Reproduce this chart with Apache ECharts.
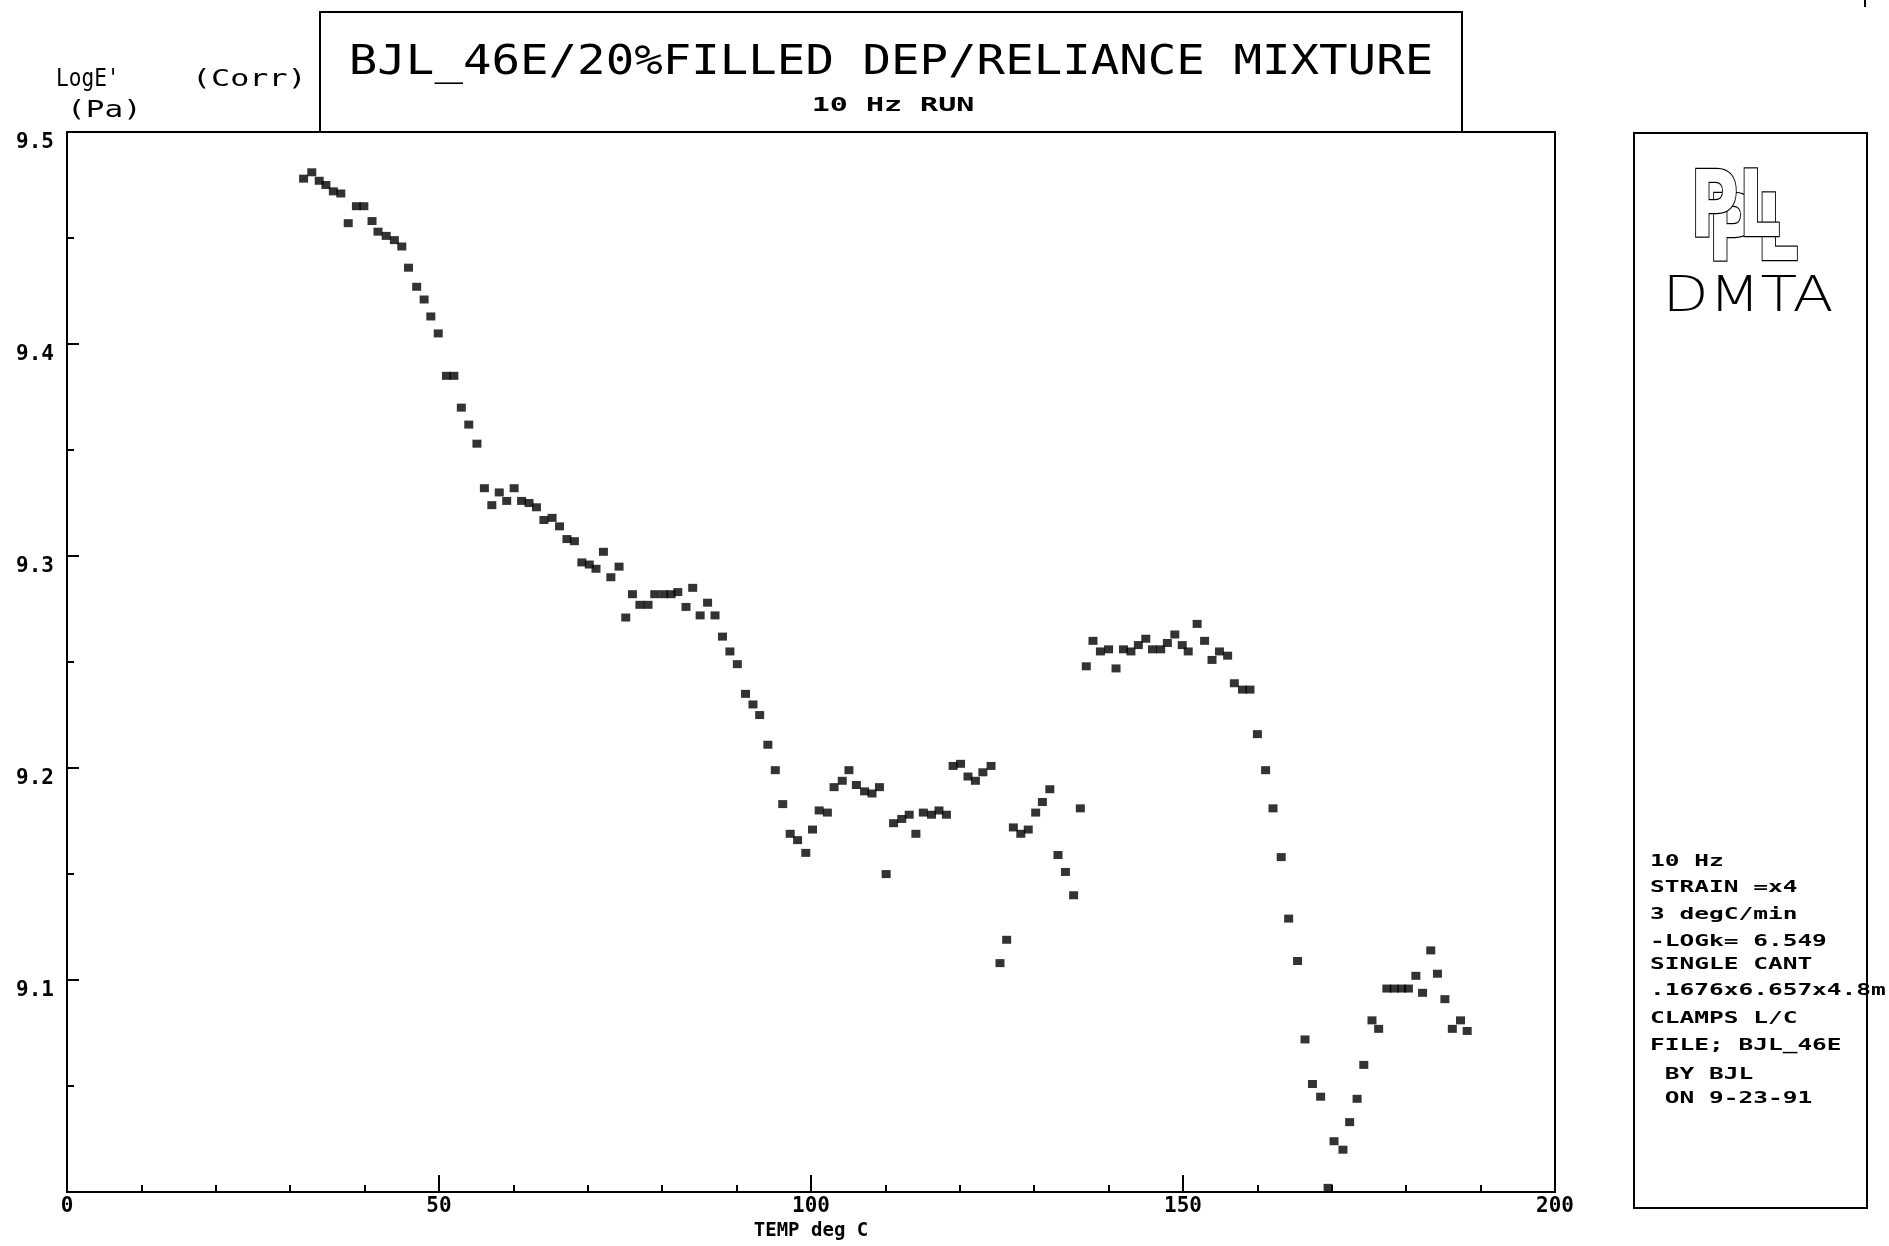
<!DOCTYPE html>
<html>
<head>
<meta charset="utf-8">
<title>BJL_46E DMTA</title>
<script src="https://cdn.jsdelivr.net/npm/echarts/dist/echarts.min.js"></script>
<style>
  html, body { margin: 0; padding: 0; background: #fff; }
  #chart { width: 1889px; height: 1246px; }
</style>
</head>
<body>
<div id="chart"></div>
<script>
// temperature (deg C) of each measured point
const temps = [
  31.8, 32.9, 33.9, 34.8, 35.8, 36.8, 37.8, 38.9, 39.9, 41.0,
  41.8, 42.9, 44.0, 45.0, 45.9, 47.0, 48.0, 48.9, 49.9, 51.0,
  52.0, 53.0, 54.0, 55.1, 56.1, 57.1, 58.1, 59.1, 60.1, 61.1,
  62.1, 63.1, 64.1, 65.2, 66.2, 67.2, 68.2, 69.2, 70.2, 71.1,
  72.1, 73.1, 74.2, 75.1, 76.0, 77.0, 78.1, 79.0, 80.2, 81.2,
  82.1, 83.2, 84.1, 85.1, 86.1, 87.1, 88.1, 89.1, 90.1, 91.2,
  92.2, 93.1, 94.2, 95.2, 96.2, 97.2, 98.2, 99.3, 100.2, 101.1,
  102.2, 103.1, 104.2, 105.1, 106.1, 107.2, 108.2, 109.2, 110.1, 111.1,
  112.2, 113.2, 114.1, 115.1, 116.2, 117.2, 118.2, 119.1, 120.1, 121.1,
  122.1, 123.1, 124.2, 125.4, 126.3, 127.2, 128.2, 129.2, 130.2, 131.1,
  132.1, 133.2, 134.2, 135.3, 136.2, 137.0, 137.9, 138.9, 140.0, 141.0,
  142.0, 143.0, 144.0, 145.0, 145.9, 147.0, 147.9, 148.9, 149.9, 150.7,
  151.9, 152.9, 153.9, 154.9, 156.0, 156.9, 158.0, 159.0, 160.0, 161.1,
  162.1, 163.2, 164.2, 165.4, 166.4, 167.4, 168.5, 169.5, 170.3, 171.5,
  172.4, 173.4, 174.3, 175.4, 176.3, 177.4, 178.4, 179.4, 180.3, 181.3,
  182.2, 183.3, 184.2, 185.2, 186.2, 187.3, 188.2
];

// LogE' (Corr), Pa
const logE = [
  9.478, 9.481, 9.477, 9.475, 9.472, 9.471, 9.457, 9.465, 9.465, 9.458,
  9.453, 9.451, 9.449, 9.446, 9.436, 9.427, 9.421, 9.413, 9.405, 9.385,
  9.385, 9.370, 9.362, 9.353, 9.332, 9.324, 9.330, 9.326, 9.332, 9.326,
  9.325, 9.323, 9.317, 9.318, 9.314, 9.308, 9.307, 9.297, 9.296, 9.294,
  9.302, 9.290, 9.295, 9.271, 9.282, 9.277, 9.277, 9.282, 9.282, 9.282,
  9.283, 9.276, 9.285, 9.272, 9.278, 9.272, 9.262, 9.255, 9.249, 9.235,
  9.230, 9.225, 9.211, 9.199, 9.183, 9.169, 9.166, 9.160, 9.171, 9.180,
  9.179, 9.191, 9.194, 9.199, 9.192, 9.189, 9.188, 9.191, 9.150, 9.174,
  9.176, 9.178, 9.169, 9.179, 9.178, 9.180, 9.178, 9.201, 9.202, 9.196,
  9.194, 9.198, 9.201, 9.108, 9.119, 9.172, 9.169, 9.171, 9.179, 9.184,
  9.190, 9.159, 9.151, 9.140, 9.181, 9.248, 9.260, 9.255, 9.256, 9.247,
  9.256, 9.255, 9.258, 9.261, 9.256, 9.256, 9.259, 9.263, 9.258, 9.255,
  9.268, 9.260, 9.251, 9.255, 9.253, 9.240, 9.237, 9.237, 9.216, 9.199,
  9.181, 9.158, 9.129, 9.109, 9.072, 9.051, 9.045, 9.002, 9.024, 9.020,
  9.033, 9.044, 9.060, 9.081, 9.077, 9.096, 9.096, 9.096, 9.096, 9.102,
  9.094, 9.114, 9.103, 9.091, 9.077, 9.081, 9.076
];

const titleText = "BJL_46E/20%FILLED DEP/RELIANCE MIXTURE";
const subTitleText = "10 Hz RUN";
const xName = "TEMP deg C";
const infoLines = [
  "10 Hz",
  "STRAIN =x4",
  "3 degC/min",
  "-LOGk= 6.549",
  "SINGLE CANT",
  ".1676x6.657x4.8m",
  "CLAMPS L/C",
  "FILE; BJL_46E",
  " BY BJL",
  " ON 9-23-91"
];

const mono = "DejaVu Sans Mono";
const points = temps.map((t, i) => [t, logE[i]]);

// y centres of the info lines in the right box
const infoY = [862, 888, 915, 942, 965, 991, 1019, 1046, 1075, 1099];

function txt(x, y, text, opt) {
  return {
    type: "text",
    x: x,
    y: y,
    scaleX: opt.scaleX || 1,
    z: 10,
    style: {
      text: text,
      fontSize: opt.size,
      fontFamily: opt.family || mono,
      fontWeight: opt.weight || "normal",
      fill: opt.fill || "#000",
      stroke: opt.stroke,
      lineWidth: opt.lineWidth,
      textAlign: opt.align || "left",
      align: opt.align || "left",
      textVerticalAlign: "middle",
      verticalAlign: "middle"
    }
  };
}

const graphics = [
  // title box
  { type: "rect", shape: { x: 320, y: 12, width: 1142, height: 120 },
    style: { fill: "none", stroke: "#000", lineWidth: 2 } },
  txt(891, 64, titleText, { size: 40, scaleX: 1.185, align: "center" }),
  txt(893, 106, subTitleText, { size: 20, weight: "bold", scaleX: 1.5, align: "center" }),
  // y axis name
  txt(56, 80, "LogE'", { size: 24, scaleX: 0.88 }),
  txt(192, 80, "(Corr)", { size: 23, scaleX: 1.38 }),
  txt(67, 111, "(Pa)", { size: 23, scaleX: 1.35 }),
  // right info box
  { type: "rect", shape: { x: 1634, y: 133, width: 233, height: 1075 },
    style: { fill: "none", stroke: "#000", lineWidth: 2 } },
  { type: "line", shape: { x1: 1865, y1: 0, x2: 1865, y2: 7 },
    style: { stroke: "#000", lineWidth: 2 } },
  // logo
  txt(1708, 236, "PL", { size: 92, family: "DejaVu Sans", weight: "bold", fill: "#fff",
    stroke: "#000", lineWidth: 2.5, scaleX: 0.72 }),
  txt(1690, 212, "PL", { size: 92, family: "DejaVu Sans", weight: "bold", fill: "#fff",
    stroke: "#000", lineWidth: 2.5, scaleX: 0.72 }),
  txt(1748, 298, "DMTA", { size: 50, family: "DejaVu Sans", weight: 200,
    scaleX: 1.2, align: "center" })
];

infoLines.forEach((line, i) => {
  graphics.push(txt(1650, infoY[i], line, { size: 16, weight: "bold", scaleX: 1.53 }));
});

const chart = echarts.init(document.getElementById("chart"), null, { renderer: "canvas" });

chart.setOption({
  animation: false,
  backgroundColor: "#fff",
  grid: {
    show: true,
    left: 67,
    top: 132,
    width: 1488,
    height: 1069,
    borderColor: "#000",
    borderWidth: 2,
    backgroundColor: "transparent"
  },
  xAxis: {
    type: "value",
    min: 0,
    max: 200,
    interval: 50,
    name: xName,
    nameLocation: "middle",
    nameGap: 21,
    nameTextStyle: { fontFamily: mono, fontWeight: "bold", fontSize: 19, color: "#000" },
    axisLine: { lineStyle: { color: "#000", width: 2 } },
    axisTick: { inside: true, length: 17, lineStyle: { color: "#000", width: 2 } },
    minorTick: { show: true, splitNumber: 5, length: 7, lineStyle: { color: "#000", width: 2 } },
    splitLine: { show: false },
    axisLabel: { margin: 4, fontFamily: mono, fontWeight: "bold", fontSize: 21, color: "#000" }
  },
  yAxis: {
    type: "value",
    min: 9.0,
    max: 9.5,
    interval: 0.1,
    axisLine: { lineStyle: { color: "#000", width: 2 } },
    axisTick: { inside: true, length: 12, lineStyle: { color: "#000", width: 2 } },
    minorTick: { show: true, splitNumber: 2, length: 7, lineStyle: { color: "#000", width: 2 } },
    splitLine: { show: false },
    axisLabel: {
      margin: 13,
      fontFamily: mono,
      fontWeight: "bold",
      fontSize: 21,
      color: "#000",
      verticalAlign: "top",
      formatter: function (v) {
        return v < 9.05 ? "" : v.toFixed(1);
      }
    }
  },
  series: [
    {
      type: "scatter",
      data: points,
      symbol: "rect",
      symbolSize: [9, 8],
      itemStyle: { color: "#000" }
    }
  ],
  graphic: graphics
});
</script>
</body>
</html>
